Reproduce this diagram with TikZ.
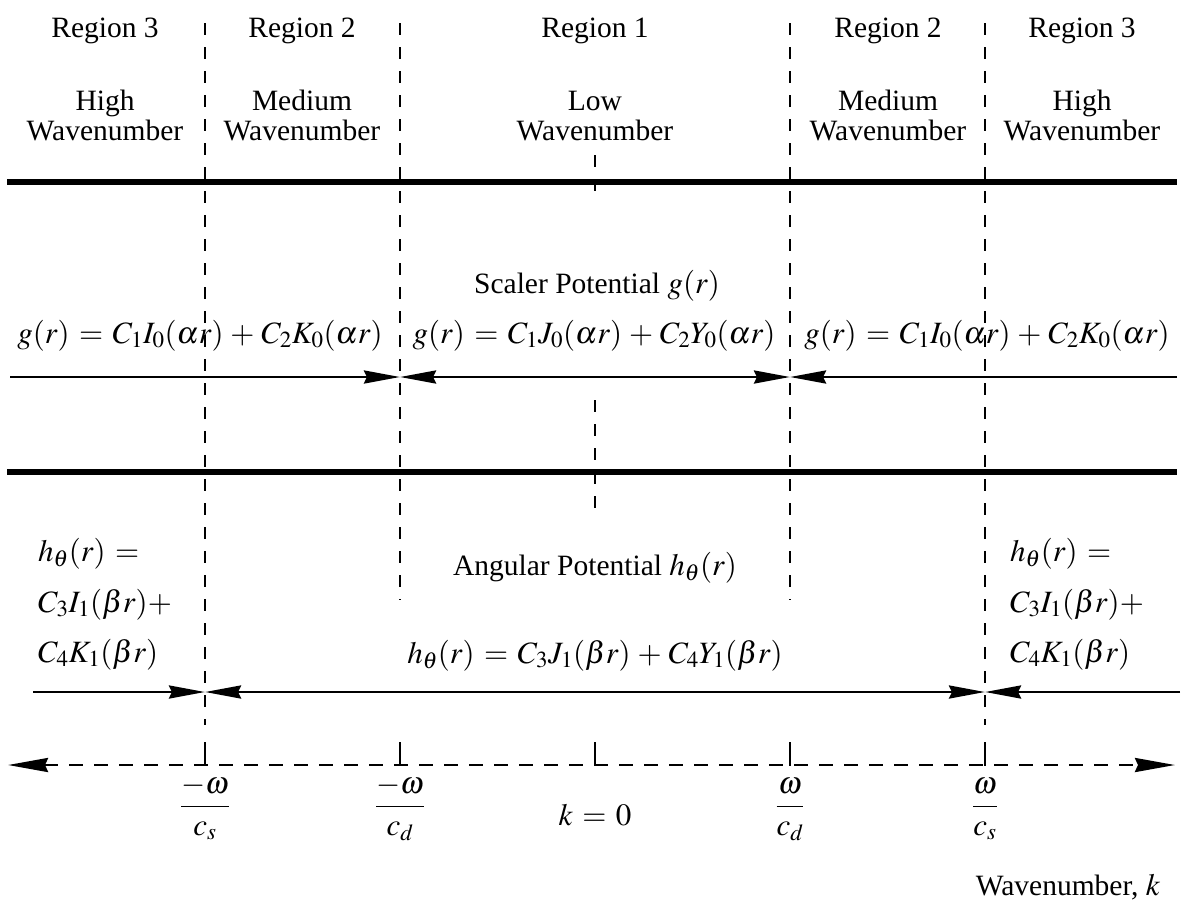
\documentclass[tikz,border=0pt]{standalone}
\usepackage{mathptmx}
\usepackage{fontspec}
\setmainfont{Liberation Serif}
\usetikzlibrary{arrows.meta}
\DeclareMathSizes{31}{31}{23}{17}
\newcommand\fs{\fontsize{29.5}{33}\selectfont}
\newcommand\mfs{\fontsize{31}{35}\selectfont\thickmuskip=5.5mu\medmuskip=4mu}
\newcommand\dfr[2]{{\displaystyle\frac{#1}{#2}}}
\tikzset{
  lbl/.style={font=\fs, inner sep=0pt, anchor=base},
  mlbl/.style={font=\mfs, inner sep=0pt, anchor=base},
  mlblw/.style={font=\mfs, inner sep=0pt, anchor=base west},
  heavy/.style={line width=6pt},
  vdash/.style={line width=2.8pt, dash pattern=on 12pt off 12pt},
  tick/.style={line width=2.8pt},
  tipR/.style={line width=2.8pt, -{Stealth[length=36pt,width=13pt,inset=3pt]}},
  tipB/.style={line width=2.8pt, {Stealth[length=36pt,width=13pt,inset=3pt]}-{Stealth[length=36pt,width=13pt,inset=3pt]}},
  axisln/.style={line width=2.8pt, dash pattern=on 14pt off 11pt, {Stealth[length=40pt,width=14pt,inset=3pt]}-{Stealth[length=40pt,width=14pt,inset=3pt]}},
}
\begin{document}
\begin{tikzpicture}[x=1pt,y=-1pt]
\useasboundingbox (0,0) rectangle (1183,906);
% region headings
\node[lbl] (r3a) at (105,37) {Region 3};
\node[lbl] (r2a) at (302,37) {Region 2};
\node[lbl] (r1)  at (595,37) {Region 1};
\node[lbl] (r2b) at (888,37) {Region 2};
\node[lbl] (r3b) at (1082,37) {Region 3};
\node[lbl] (hia) at (105,110) {High};
\node[lbl] (mea) at (302,110) {Medium};
\node[lbl] (low) at (595,110) {Low};
\node[lbl] (meb) at (888,110) {Medium};
\node[lbl] (hib) at (1082,110) {High};
\node[lbl] (wa1) at (105,140) {Wavenumber};
\node[lbl] (wa2) at (302,140) {Wavenumber};
\node[lbl] (wa3) at (595,140) {Wavenumber};
\node[lbl] (wa4) at (888,140) {Wavenumber};
\node[lbl] (wa5) at (1082,140) {Wavenumber};
% vertical dashed guides
\coordinate (v1t) at (205,23);  \coordinate (v1b) at (205,725);
\coordinate (v2t) at (400,23);  \coordinate (v2b) at (400,600);
\coordinate (v4t) at (790,23);  \coordinate (v4b) at (790,600);
\coordinate (v5t) at (985,23);  \coordinate (v5b) at (985,725);
\coordinate (c1t) at (595,155); \coordinate (c1b) at (595,197);
\coordinate (c2t) at (595,400); \coordinate (c2b) at (595,512);
\draw[vdash] (v1t) -- (v1b);
\draw[vdash] (v2t) -- (v2b);
\draw[vdash] (v4t) -- (v4b);
\draw[vdash] (v5t) -- (v5b);
\draw[vdash] (c1t) -- (c1b);
\draw[vdash] (c2t) -- (c2b);
% heavy horizontal rules
\coordinate (h1l) at (7,182); \coordinate (h1r) at (1177,182);
\coordinate (h2l) at (7,472); \coordinate (h2r) at (1177,472);
\draw[heavy] (h1l) -- (h1r);
\draw[heavy] (h2l) -- (h2r);
% scalar potential
\node[lbl] (sp) at (597,293) {Scaler Potential {\mfs$g(r)$}};
\node[mlbl] (g1) at (200,343) {$g(r)=C_1I_0(\alpha r)+C_2K_0(\alpha r)$};
\node[mlbl] (g2) at (594,343) {$g(r)=C_1J_0(\alpha r)+C_2Y_0(\alpha r)$};
\node[mlbl] (g3) at (987,343) {$g(r)=C_1I_0(\alpha r)+C_2K_0(\alpha r)$};
\coordinate (gL) at (10,377);  \coordinate (gA) at (400,377);
\coordinate (gB) at (790,377); \coordinate (gR) at (1177,377);
\draw[tipR] (gL) -- (gA);
\draw[tipB] (gA) -- (gB);
\draw[tipR] (gR) -- (gB);
% angular potential
\node[lbl] (ap) at (595,575) {Angular Potential {\mfs$h_\theta(r)$}};
\node[mlbl] (hc) at (595,663) {$h_\theta(r)=C_3J_1(\beta r)+C_4Y_1(\beta r)$};
\node[mlblw] (hl1) at (38,561) {$h_\theta(r)=$};
\node[mlblw] (hl2) at (38,612) {$C_3I_1(\beta r)+$};
\node[mlblw] (hl3) at (38,662) {$C_4K_1(\beta r)$};
\node[mlblw] (hr1) at (1010,561) {$h_\theta(r)=$};
\node[mlblw] (hr2) at (1010,612) {$C_3I_1(\beta r)+$};
\node[mlblw] (hr3) at (1010,662) {$C_4K_1(\beta r)$};
\coordinate (hL) at (33,692);  \coordinate (hA) at (205,692);
\coordinate (hB) at (985,692); \coordinate (hR) at (1180,692);
\draw[tipR] (hL) -- (hA);
\draw[tipB] (hA) -- (hB);
\draw[tipR] (hR) -- (hB);
% wavenumber axis
\coordinate (aL) at (8,765); \coordinate (aR) at (1175,765);
\draw[axisln] (aL) -- (aR);
\foreach \x/\n in {205/1,400/2,595/3,790/4,985/5}{
  \coordinate (t\n a) at (\x,742);
  \coordinate (t\n b) at (\x,766);
  \draw[tick] (t\n a) -- (t\n b);
}
\node[mlbl] (f1) at (205,814) {$\dfr{-\omega}{c_s}$};
\node[mlbl] (f2) at (400,814) {$\dfr{-\omega}{c_d}$};
\node[mlbl] (k0) at (595,825) {$k=0$};
\node[mlbl] (f4) at (790,814) {$\dfr{\omega}{c_d}$};
\node[mlbl] (f5) at (985,814) {$\dfr{\omega}{c_s}$};
\node[lbl] (wk) at (1068,895) {Wavenumber, {\mfs$k$}};
\end{tikzpicture}
\end{document}
